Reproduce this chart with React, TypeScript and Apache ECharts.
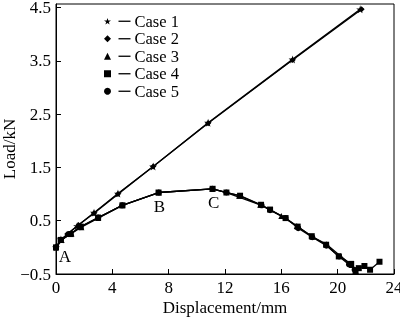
import React, { useEffect, useRef } from "react";
import * as echarts from "echarts";

const seriesNames = ["Case 1", "Case 2", "Case 3", "Case 4", "Case 5"];
const xTicks = [0, 4, 8, 12, 16, 20, 24];
const yTicks = [-0.5, 0.5, 1.5, 2.5, 3.5, 4.5];

const case1: number[][] = [
  [0, 0], [0.35, 0.15], [1.5, 0.4], [2.7, 0.65], [4.4, 1.01], [6.9, 1.52], [10.8, 2.34], [16.8, 3.53], [21.6, 4.47],
];
const case2: number[][] = [
  [0, 0], [0.8, 0.25], [1.6, 0.42], [2.7, 0.64], [4.4, 1.0], [6.9, 1.52], [10.8, 2.33], [16.8, 3.52], [21.7, 4.47],
];
const case3: number[][] = [
  [0, 0], [0.4, 0.14], [1.1, 0.26], [1.8, 0.38], [3.0, 0.55], [4.7, 0.79], [7.3, 1.03], [11.1, 1.1], [13.0, 0.97],
  [14.5, 0.8], [16.0, 0.59], [17.1, 0.4], [18.2, 0.2], [19.2, 0.06], [20.2, -0.16], [21.0, -0.33], [21.3, -0.46],
];
const case4: number[][] = [
  [0, 0], [0.33, 0.14], [1.05, 0.25], [1.76, 0.39], [2.99, 0.56], [4.72, 0.79], [7.28, 1.03], [11.12, 1.1],
  [12.1, 1.03], [13.07, 0.97], [14.56, 0.8], [15.2, 0.71], [16.3, 0.55], [17.16, 0.39], [18.16, 0.21],
  [19.18, 0.05], [20.08, -0.17], [20.96, -0.31], [21.27, -0.45], [21.5, -0.39], [21.9, -0.35], [22.3, -0.42],
  [22.97, -0.27],
];
const case5: number[][] = [
  [0, 0], [0.35, 0.14], [1.0, 0.25], [1.7, 0.38], [3.0, 0.56], [4.7, 0.79], [7.3, 1.03], [11.1, 1.1], [12.1, 1.03],
  [14.6, 0.79], [15.2, 0.7], [16.3, 0.55], [17.2, 0.36], [18.2, 0.19], [19.2, 0.03], [20.1, -0.17], [20.8, -0.32],
  [21.2, -0.42],
];
// point labels on Case 4: index -> text
const pointLabels: [number, string, number, number][] = [
  [0, "A", 9, 9],
  [6, "B", 1, 14],
  [7, "C", 1, 14],
];

const STAR = "path://M50,0 L61,35 L98,35 L68,57 L79,91 L50,70 L21,91 L32,57 L2,35 L39,35 Z";
const symbols = [STAR, "diamond", "triangle", "rect", "circle"];
const sizes = [8, 6, 6, 6, 6];
const FONT = "'Liberation Serif', 'Times New Roman', Times, serif";
const FS = 17;

export default function App() {
  const ref = useRef<HTMLDivElement>(null);
  useEffect(() => {
    if (!ref.current) return;
    const chart = echarts.init(ref.current, null, { renderer: "svg" });
    const datas = [case1, case2, case3, case4, case5];
    const series = datas.map((d, i) => ({
      name: seriesNames[i],
      type: "line",
      z: i === 3 ? 4 : i === 0 ? 3 : 2,
      symbol: symbols[i],
      symbolSize: sizes[i],
      showAllSymbol: true,
      lineStyle: { color: "#000", width: 1.3 },
      itemStyle: { color: "#000" },
      data: d.map((p, j) => {
        const lab = i === 3 ? pointLabels.find((l) => l[0] === j) : undefined;
        if (!lab) return p;
        return {
          value: p,
          label: {
            show: true,
            formatter: lab[1],
            position: "inside",
            offset: [lab[2], lab[3]],
            color: "#000",
            fontFamily: FONT,
            fontSize: FS,
          },
        };
      }),
    }));
    chart.setOption({
      animation: false,
      textStyle: { fontFamily: FONT },
      grid: {
        left: 56,
        right: 6,
        top: 4,
        bottom: 43,
        show: true,
        borderColor: "#000",
        borderWidth: 1,
        containLabel: false,
        outerBoundsMode: "none",
      },
      legend: {
        data: seriesNames.map((n, i) => ({ name: n, icon: symbols[i] })),
        orient: "vertical",
        left: 104,
        top: 12.5,
        padding: 0,
        itemGap: 0,
        itemWidth: 7,
        itemHeight: 7,
        selectedMode: false,
        itemStyle: { color: "#000" },
        lineStyle: { width: 0 },
        textStyle: {
          color: "#000",
          fontFamily: FONT,
          fontSize: 16.5,
          lineHeight: 17.5,
          rich: {
            s: { width: 2.5 },
            l: { width: 12, height: 1.3, backgroundColor: "#000" },
            g: { width: 4 },
            t: { fontFamily: FONT, fontSize: 16.5, color: "#000" },
          },
        },
        formatter: (name: string) => `{s| }{l| }{g| }{t|${name}}`,
      },
      xAxis: {
        type: "value",
        min: xTicks[0],
        max: xTicks[xTicks.length - 1],
        interval: 4,
        name: "Displacement/mm",
        nameLocation: "middle",
        nameGap: 25,
        nameMoveOverlap: false,
        nameTextStyle: { color: "#000", fontFamily: FONT, fontSize: FS },
        axisLine: { onZero: false, lineStyle: { color: "#000", width: 1 } },
        axisTick: { inside: true, length: 5, lineStyle: { color: "#000" } },
        axisLabel: { color: "#000", fontFamily: FONT, fontSize: FS, margin: 5 },
        splitLine: { show: false },
      },
      yAxis: {
        type: "value",
        min: yTicks[0],
        max: 4.57,
        interval: 1,
        name: "Load/kN",
        nameLocation: "middle",
        nameGap: 38,
        nameMoveOverlap: false,
        nameTextStyle: { color: "#000", fontFamily: FONT, fontSize: FS, padding: [0, 0, 0, -20] },
        axisLine: { onZero: false, lineStyle: { color: "#000", width: 1 } },
        axisTick: { inside: true, length: 5, lineStyle: { color: "#000" } },
        axisLabel: {
          color: "#000",
          fontFamily: FONT,
          fontSize: FS,
          margin: 5,
          showMaxLabel: false,
          formatter: (v: number) =>
            yTicks.some((t) => Math.abs(t - v) < 1e-6) ? (v < 0 ? "\u2212" + Math.abs(v).toFixed(1) : v.toFixed(1)) : "",
        },
        splitLine: { show: false },
      },
      series,
    });
    return () => chart.dispose();
  }, []);
  return <div ref={ref} style={{ width: 400, height: 317, position: "fixed", left: 0, top: 0 }} />;
}
